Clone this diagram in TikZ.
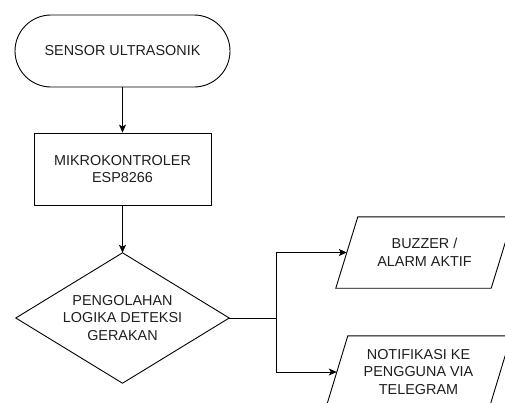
\documentclass[tikz,border=0pt]{standalone}
\usepackage{fontspec}
\setmainfont{Liberation Sans}
\usetikzlibrary{arrows.meta}
\definecolor{txt}{RGB}{30,30,30}
\tikzset{
  box/.style={draw=black, line width=0.9pt, inner sep=0pt, align=center, text=txt,
    font=\fontsize{14.4}{17.8}\selectfont},
  plain/.style={draw=none, inner sep=0pt, align=center, text=txt,
    font=\fontsize{14.4}{17.8}\selectfont},
  outline/.style={draw=black, line width=0.9pt},
  conn/.style={draw=black, line width=0.9pt, -{Stealth[length=8pt,width=7pt,inset=2pt]}},
  seg/.style={draw=black, line width=0.9pt}
}
\begin{document}
\begin{tikzpicture}[x=1pt,y=-1pt]
\useasboundingbox (0,0) rectangle (505,402);
\clip (0,0) rectangle (505,402);
\node[box, rounded corners=36pt, minimum width=215pt, minimum height=72pt] (t) at (122.5,51) {SENSOR ULTRASONIK};
\node[box, minimum width=177pt, minimum height=72pt] (m) at (122.5,169) {MIKROKONTROLER\\ESP8266};
\node[plain, minimum width=213pt, minimum height=130pt] (d) at (122.5,318) {PENGOLAHAN\\LOGIKA DETEKSI\\GERAKAN};
\draw[outline] (d.north) -- (d.east) -- (d.south) -- (d.west) -- cycle;
\node[plain, minimum width=155pt, minimum height=71pt] (p1) at (424.5,252.5) {BUZZER /\\ALARM AKTIF};
\draw[outline] ([xshift=11pt]p1.north west) -- ([xshift=11pt]p1.north east) -- ([xshift=-11pt]p1.south east) -- ([xshift=-11pt]p1.south west) -- cycle;
\node[plain, minimum width=163pt, minimum height=72pt] (p2) at (418.5,372) {NOTIFIKASI KE\\PENGGUNA VIA\\TELEGRAM};
\draw[outline] ([xshift=11pt]p2.north west) -- ([xshift=11pt]p2.north east) -- ([xshift=-11pt]p2.south east) -- ([xshift=-11pt]p2.south west) -- cycle;
\coordinate (j) at (276,318);
\draw[conn] (t.south) -- (m.north);
\draw[conn] (m.south) -- (d.north);
\draw[seg] (d.east) -- (j);
\draw[conn] (j) |- (p1.west);
\draw[conn] (j) |- (p2.west);
\end{tikzpicture}
\end{document}
